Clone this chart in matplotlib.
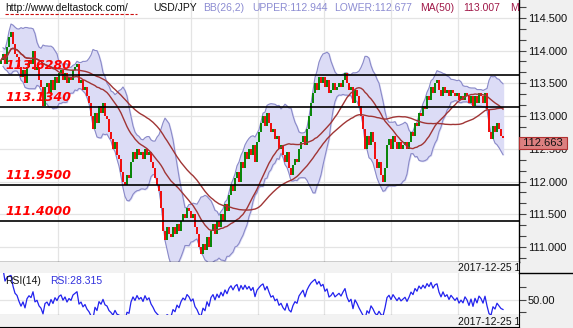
import numpy as np
import pandas as pd
import matplotlib
matplotlib.use('Agg')
import matplotlib.pyplot as plt
from matplotlib.lines import Line2D
from matplotlib.ticker import MultipleLocator, FixedLocator, FormatStrFormatter
from matplotlib.transforms import blended_transform_factory

# USD/JPY closes (one bar per 2px column)
closes = [
    113.85, 113.95, 113.80, 114.05, 114.20, 114.28, 114.10, 113.95, 113.90, 113.75,
    113.60, 113.70, 113.50, 113.75, 113.85, 113.80, 114.00, 113.70, 113.75, 113.55,
    113.45, 113.15, 113.45, 113.50, 113.35, 113.55, 113.40, 113.60, 113.50, 113.65,
    113.70, 113.55, 113.65, 113.50, 113.60, 113.55, 113.70, 113.75, 113.80, 113.50,
    113.55, 113.40, 113.45, 113.30, 113.20, 113.00, 112.80, 113.05, 112.90, 113.15,
    113.05, 113.20, 113.00, 112.95, 112.75, 112.65, 112.50, 112.60, 112.40, 112.35,
    112.15, 112.00, 111.95, 112.10, 112.05, 112.30, 112.45, 112.35, 112.50, 112.40,
    112.45, 112.35, 112.50, 112.40, 112.45, 112.30, 112.20, 112.05, 111.95, 111.85,
    111.60, 111.25, 111.10, 111.30, 111.20, 111.15, 111.30, 111.20, 111.35, 111.25,
    111.40, 111.50, 111.45, 111.60, 111.55, 111.45, 111.50, 111.30, 111.20, 111.00,
    110.90, 111.05, 110.95, 111.15, 111.00, 111.25, 111.35, 111.20, 111.40, 111.30,
    111.50, 111.40, 111.65, 111.55, 111.80, 111.95, 111.85, 112.05, 112.15, 112.00,
    112.30, 112.20, 112.45, 112.35, 112.50, 112.40, 112.55, 112.30, 112.60, 112.75,
    112.90, 113.00, 112.85, 113.05, 112.90, 112.75, 112.80, 112.65, 112.70, 112.50,
    112.55, 112.40, 112.30, 112.45, 112.20, 112.10, 112.25, 112.35, 112.30, 112.50,
    112.60, 112.70, 112.55, 112.80, 113.00, 113.20, 113.35, 113.50, 113.40, 113.60,
    113.50, 113.60, 113.45, 113.55, 113.35, 113.40, 113.50, 113.40, 113.45, 113.50,
    113.45, 113.55, 113.65, 113.50, 113.40, 113.45, 113.20, 113.40, 113.30, 113.15,
    113.00, 112.80, 112.50, 112.70, 112.55, 112.75, 112.60, 112.35, 112.20, 112.30,
    112.10, 112.00, 112.20, 112.55, 112.65, 112.50, 112.70, 112.60, 112.50, 112.60,
    112.50, 112.55, 112.60, 112.50, 112.60, 112.75, 112.70, 112.90, 112.85, 113.05,
    113.00, 113.15, 113.10, 113.30, 113.25, 113.45, 113.35, 113.50, 113.55, 113.40,
    113.30, 113.45, 113.35, 113.40, 113.30, 113.40, 113.35, 113.30, 113.35, 113.25,
    113.30, 113.25, 113.35, 113.30, 113.20, 113.30, 113.15, 113.30, 113.20, 113.35,
    113.30, 113.20, 113.35, 113.10, 112.75, 112.65, 112.85, 112.75, 112.90, 112.80,
    112.70, 112.663,
]
first_open = 113.80
levels = [113.628, 113.134, 111.95, 111.40]
level_labels = ['113.6280', '113.1340', '111.9500', '111.4000']
session_breaks = [28.5, 61.5, 95, 128.5, 161.5, 195, 228.5]
last_price = 112.663
date_label = '2017-12-25 10:00'

# indicators (windows halved because each bar here stands for two on the chart)
close = pd.Series(closes)
opn = close.shift(1).fillna(first_open)
mid = close.rolling(13, min_periods=2).mean()
sd = close.rolling(13, min_periods=2).std()
upper, lower = mid + 2 * sd, mid - 2 * sd
ma50 = close.rolling(25, min_periods=1).mean()
ma100 = close.rolling(50, min_periods=1).mean()
d = close.diff()
gain = d.clip(lower=0).ewm(alpha=1 / 7, adjust=False).mean()
loss = (-d.clip(upper=0)).ewm(alpha=1 / 7, adjust=False).mean()
rsi = 100 - 100 / (1 + gain / loss)

plt.rcParams['font.family'] = ['Liberation Sans', 'DejaVu Sans']
W, H = 573, 328
def box(x0, y0, x1, y1):
    return [x0 / W, 1 - y1 / H, (x1 - x0) / W, (y1 - y0) / H]

fig = plt.figure(figsize=(W / 100, H / 100), dpi=100, facecolor='#f0f0f0')
ax = fig.add_axes(box(0, 0, 519, 262))
strip1 = fig.add_axes(box(0, 262, 519, 273))
axr = fig.add_axes(box(0, 273, 519, 315))
strip2 = fig.add_axes(box(0, 315, 519, 327))

idx = np.arange(len(close))
xlim = (-0.5, 259)

# main price panel
ax.set_facecolor('white')
ax.fill_between(idx, lower, upper, color='#dcdcf6', zorder=1)
ax.plot(idx, upper, color='#8a8ac8', lw=0.8, zorder=2)
ax.plot(idx, lower, color='#8a8ac8', lw=0.8, zorder=2)
up = (close >= opn).values
bottom = np.minimum(opn, close)
height = (close - opn).abs().clip(lower=0.02)
ax.bar(idx[up], height[up], bottom=bottom[up], width=0.75, color='#0b860b', zorder=3)
ax.bar(idx[~up], height[~up], bottom=bottom[~up], width=0.75, color='#f01010', zorder=3)
ax.plot(idx, ma50, color='#a03535', lw=1.0, zorder=4)
ax.plot(idx, ma100, color='#a03535', lw=1.0, zorder=4)
for lv, lab in zip(levels, level_labels):
    ax.axhline(lv, color='black', lw=1.2, zorder=5)
    ax.text(2, lv + 0.09, lab, color='#ff0000', fontsize=9, fontweight='bold',
            fontstyle='italic', family='DejaVu Sans', va='baseline', zorder=6)
for xb in session_breaks:
    ax.axvline(xb, color='#e4e4e4', lw=0.9, zorder=0)
ax.set_xlim(*xlim)
ax.set_ylim(110.771, 114.771)
ax.yaxis.tick_right()
ax.yaxis.set_major_locator(MultipleLocator(0.5))
ax.yaxis.set_minor_locator(MultipleLocator(1 / 6))
ax.yaxis.set_major_formatter(FormatStrFormatter('%.3f'))
ax.grid(axis='y', which='major', color='#e4e4e4', lw=0.9, zorder=0)
ax.set_axisbelow(True)
ax.tick_params(axis='y', which='both', direction='out', length=5, width=0.8,
               color='#444444', labelsize=8, labelcolor='#111111', pad=1.5)
ax.set_xticks(session_breaks)
ax.tick_params(axis='x', direction='out', length=3, color='#888888', labelbottom=False)
for s in ['top', 'left']:
    ax.spines[s].set_visible(False)
ax.spines['right'].set_linewidth(1.0)
ax.spines['bottom'].set_linewidth(1.0)

tr = blended_transform_factory(ax.transAxes, ax.transData)
ax.text(1.002, last_price, ' 112.663 ', transform=tr, ha='left', va='top', fontsize=8,
        color='#111111', clip_on=False, zorder=10,
        bbox=dict(boxstyle='square,pad=0.12', fc='#dc8080', ec='#b03030', lw=0.8))

# header texts
def ftext(x, s, color, **kw):
    fig.text(x / W, 1 - 8 / H, s, color=color, fontsize=7.5, va='center', **kw)
ftext(5, 'http://www.deltastock.com/', '#111111')
fig.add_artist(Line2D([5 / W, 137 / W], [1 - 14 / H] * 2, color='#cc1010', lw=0.8,
                      linestyle=(0, (3, 1.5))))
ftext(153, 'USD/JPY', '#111111')
ftext(203, 'BB(26,2)', '#8c8cd2')
ftext(252, 'UPPER:112.944', '#8c8cd2')
ftext(334, 'LOWER:112.677', '#8c8cd2')
ftext(420, 'MA(50)', '#a01848')
ftext(463, '113.007', '#a01848')
ax.text(510 / 519, 1 - 8 / 262, 'MA(100)', transform=ax.transAxes, color='#a01848',
        fontsize=7.5, va='center', clip_on=True)

# date strips
for st in (strip1, strip2):
    st.set_facecolor('#f2f2f2')
    st.set_xticks([])
    st.set_yticks([])
    for s in ['top', 'left']:
        st.spines[s].set_visible(False)
    st.text(458 / 519, 0.45, date_label, transform=st.transAxes, fontsize=7.5,
            color='#111111', va='center', clip_on=True)
strip1.spines['bottom'].set_visible(False)

# RSI panel
axr.set_facecolor('white')
axr.plot(idx, rsi, color='#2222ee', lw=0.9)
for xb in session_breaks:
    axr.axvline(xb, color='#e4e4e4', lw=0.9, zorder=0)
axr.axhline(50, color='#e4e4e4', lw=0.9, zorder=0)
axr.set_xlim(*xlim)
axr.set_ylim(25, 93)
axr.yaxis.tick_right()
axr.yaxis.set_major_locator(FixedLocator([50]))
axr.yaxis.set_minor_locator(FixedLocator([30, 70]))
axr.yaxis.set_major_formatter(FormatStrFormatter('%.2f'))
axr.tick_params(axis='y', which='both', direction='out', length=5, width=0.8,
                color='#444444', labelsize=8, labelcolor='#111111', pad=1.5)
axr.set_xticks(session_breaks)
axr.tick_params(axis='x', direction='out', length=3, color='#888888', labelbottom=False)
for s in ['top', 'left']:
    axr.spines[s].set_visible(False)
axr.text(5 / 519, 0.8, 'RSI(14)', transform=axr.transAxes, fontsize=7.5,
         color='#111111', va='center')
axr.text(50 / 519, 0.8, 'RSI:28.315', transform=axr.transAxes, fontsize=7.5,
         color='#3030dd', va='center')

fig.add_artist(Line2D([519 / W, 1], [1 - 273 / H] * 2, color='black', lw=1.0))

fig.savefig('out.png', dpi=100, facecolor=fig.get_facecolor())
